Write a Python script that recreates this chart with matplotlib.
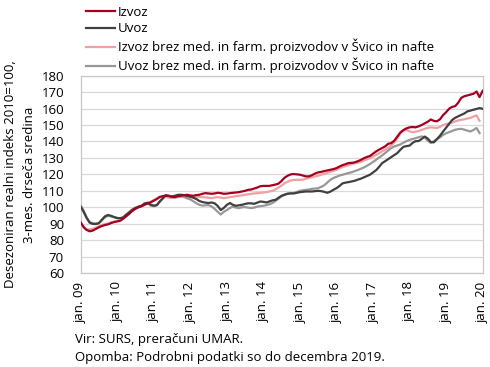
import numpy as np
import pandas as pd
import matplotlib
matplotlib.use("Agg")
import matplotlib.pyplot as plt

plt.rcParams['font.family'] = ['Open Sans', 'DejaVu Sans']

# Monthly data, Jan 2009 onward (3-month moving average, 2010=100)
izvoz = [90.8, 87.8, 86.2, 85.4, 85.8, 86.8, 87.8, 88.6, 89.2, 89.6, 90.4, 91.0,
         91.4, 91.8, 93.0, 94.5, 96.0, 97.8, 99.0, 100.0, 100.6, 101.5, 102.3, 103.0,
         104.0, 105.0, 106.2, 106.8, 107.0, 106.8, 106.4, 106.2, 106.8, 107.0, 107.3, 107.6,
         107.2, 107.0, 107.4, 107.6, 108.2, 108.6, 108.4, 108.2, 108.4, 108.8, 108.6, 108.2,
         108.3, 108.6, 108.8, 109.0, 109.2, 109.6, 110.0, 110.6, 110.8, 111.4, 112.0, 112.8,
         113.0, 113.0, 113.0, 113.4, 113.8, 114.4, 116.0, 118.0, 119.2, 120.0, 120.2, 120.0,
         119.8, 119.3, 118.8, 118.8, 119.5, 120.5, 121.2, 121.5, 122.0, 122.4, 122.8, 123.2,
         123.8, 124.8, 125.6, 126.2, 126.9, 127.0, 127.3, 128.0, 128.8, 129.8, 130.6, 131.2,
         132.6, 134.0, 135.0, 136.0, 137.0, 138.6, 139.0, 140.5, 143.0, 145.5, 147.0, 148.0,
         148.6, 148.8, 148.6, 149.2, 150.0, 151.0, 152.0, 153.4, 152.5, 152.3, 153.5, 156.0,
         157.8, 160.0, 161.0, 161.5, 163.5, 166.5, 167.5, 168.0, 168.5, 169.0, 170.4, 167.0,
         170.8]

uvoz = [100.5, 97.0, 93.5, 90.6, 89.9, 89.8, 90.3, 92.5, 94.5, 95.3, 94.8, 94.0,
        93.4, 93.4, 93.8, 95.5, 96.8, 98.5, 99.6, 100.3, 100.9, 102.2, 102.8, 101.6,
        101.0, 101.3, 103.5, 105.5, 107.4, 107.0, 106.6, 107.0, 107.6, 107.6, 107.4, 106.8,
        106.4, 105.8, 105.0, 103.8, 103.2, 102.8, 102.6, 102.9, 102.4, 100.8, 98.3, 99.6,
        101.5, 102.6, 101.5, 100.9, 101.2, 101.5, 102.0, 102.4, 102.4, 102.1, 102.8, 103.5,
        103.3, 102.9, 103.5, 104.2, 104.5, 105.8, 107.0, 107.6, 108.2, 108.4, 108.4, 108.8,
        109.2, 109.4, 109.6, 109.6, 109.6, 109.8, 110.0, 109.8, 109.4, 108.8, 109.5, 110.6,
        111.6, 113.0, 114.5, 115.0, 115.3, 115.7, 116.1, 116.8, 117.4, 118.2, 119.0, 119.8,
        121.2, 122.6, 124.5, 126.8, 128.0, 129.2, 130.5, 131.6, 133.0, 135.0, 136.8, 137.2,
        137.5, 139.2, 140.2, 140.3, 141.5, 143.0, 141.8, 139.6, 139.5, 141.5, 143.5, 146.0,
        148.4, 150.8, 153.0, 154.4, 155.3, 156.2, 157.0, 158.3, 158.8, 159.3, 159.8, 160.3,
        159.9]

izvoz_brez = [90.4, 88.0, 86.6, 86.6, 86.9, 87.6, 88.4, 89.2, 89.8, 90.1, 90.8, 91.3,
              91.6, 92.3, 93.4, 95.0, 96.6, 98.0, 99.3, 100.2, 100.9, 101.8, 102.5, 103.4,
              104.4, 105.4, 106.4, 106.5, 106.3, 106.0, 105.8, 106.1, 106.8, 107.0, 107.0, 106.9,
              106.7, 106.5, 106.2, 106.2, 106.2, 106.0, 105.8, 105.6, 105.9, 106.2, 105.9, 105.6,
              105.8, 106.2, 106.4, 106.8, 107.0, 107.3, 107.6, 107.9, 108.2, 108.4, 108.6, 108.8,
              109.0, 109.2, 109.6, 110.0, 110.8, 112.0, 113.2, 114.6, 115.6, 116.3, 116.6, 116.7,
              116.7, 116.8, 117.4, 117.8, 118.3, 118.7, 119.2, 119.8, 120.3, 120.9, 121.5, 122.1,
              122.8, 123.7, 124.5, 125.0, 125.6, 126.2, 126.7, 127.1, 127.6, 128.4, 129.2, 129.9,
              130.9, 131.9, 132.8, 134.0, 135.0, 136.2, 137.5, 139.5, 142.0, 145.0, 146.6, 147.0,
              146.2, 145.6, 145.9, 146.4, 147.0, 147.7, 148.3, 148.6, 148.4, 148.2, 148.9, 150.0,
              150.6, 151.0, 151.5, 152.2, 152.8, 153.2, 153.5, 154.0, 154.3, 155.2, 155.8, 152.6]

uvoz_brez = [100.9, 97.8, 94.0, 91.0, 90.2, 90.1, 90.3, 92.0, 94.0, 94.8, 94.4, 94.1,
             93.6, 93.0, 93.8, 95.5, 97.2, 98.6, 99.6, 100.4, 100.9, 102.5, 102.6, 101.0,
             100.6, 101.2, 103.2, 105.2, 106.5, 106.2, 105.7, 105.9, 106.2, 106.5, 106.3, 105.4,
             104.8, 103.6, 102.5, 101.5, 101.0, 101.2, 101.3, 100.5, 99.0, 97.2, 95.6, 97.2,
             98.3, 99.6, 100.3, 99.8, 99.5, 100.0, 100.1, 99.8, 99.5, 99.8, 100.4, 100.7,
             100.9, 101.3, 101.8, 102.6, 103.8, 105.2, 106.6, 107.8, 108.4, 108.6, 108.7, 109.3,
             110.0, 110.3, 110.6, 110.8, 111.2, 111.4, 111.6, 112.4, 113.4, 115.0, 116.7, 117.8,
             118.5, 119.3, 119.8, 120.3, 120.8, 121.3, 122.0, 122.6, 123.4, 124.2, 125.3, 126.3,
             127.6, 128.9, 130.2, 131.5, 133.0, 134.6, 136.0, 137.0, 137.6, 138.2, 139.3, 140.2,
             141.0, 141.5, 142.0, 142.6, 143.1, 142.5, 140.5, 139.2, 140.2, 141.3, 142.5, 144.0,
             145.0, 145.7, 146.4, 147.1, 147.5, 147.7, 147.2, 146.6, 146.1, 147.0, 148.2, 145.1]

labels = ["Izvoz", "Uvoz",
          "Izvoz brez med. in farm. proizvodov v Švico in nafte",
          "Uvoz brez med. in farm. proizvodov v Švico in nafte"]
series = [izvoz, uvoz, izvoz_brez, uvoz_brez]
colors = ["#A50021", "#404040", "#F0A0A0", "#989898"]
zorders = [5, 4, 3, 2]

ylabel = "Desezoniran realni indeks 2010=100,\n3-mes. drseča sredina"
source = "Vir: SURS, preračuni UMAR."
note = "Opomba: Podrobni podatki so do decembra 2019."

FS = 9.5

fig = plt.figure(figsize=(4.9, 3.67), dpi=100)
ax = fig.add_axes([0.1647, 0.256, 0.8203, 0.5377])

handles = []
for vals, lab, col, z in zip(series, labels, colors, zorders):
    dates = pd.date_range("2009-01-01", periods=len(vals), freq="MS")
    h, = ax.plot(dates, vals, color=col, lw=1.6, label=lab, zorder=z)
    handles.append(h)

ax.set_xlim(pd.Timestamp("2009-01-01"), pd.Timestamp("2020-01-01"))
ax.set_ylim(60, 180)
ax.set_yticks(np.arange(60, 181, 10))
years = pd.date_range("2009-01-01", "2020-01-01", freq="YS")
ax.set_xticks(years)
ax.set_xticklabels([f"jan. {d.year % 100:02d}" for d in years], rotation=90)
ax.tick_params(axis='both', length=0, labelsize=FS, colors="#000000")
ax.tick_params(axis='x', pad=6)
ax.tick_params(axis='y', pad=12)
ax.grid(axis='y', color="#D9D9D9", lw=0.9)
ax.set_axisbelow(True)
for s in ax.spines.values():
    s.set_color("#C8C8C8")
    s.set_linewidth(0.9)

ax.set_ylabel(ylabel, fontsize=9.5, labelpad=4, linespacing=1.55)

fig.legend(handles=handles, labels=labels, loc="upper left",
           bbox_to_anchor=(0.170, 0.992), frameon=False, fontsize=FS,
           handlelength=2.2, handletextpad=0.2, labelspacing=0.27,
           borderpad=0.2, borderaxespad=0.0)

fig.text(0.153, 0.066, source, fontsize=FS, va="baseline")
fig.text(0.153, 0.017, note, fontsize=FS, va="baseline")

fig.savefig("out.png", dpi=100)
